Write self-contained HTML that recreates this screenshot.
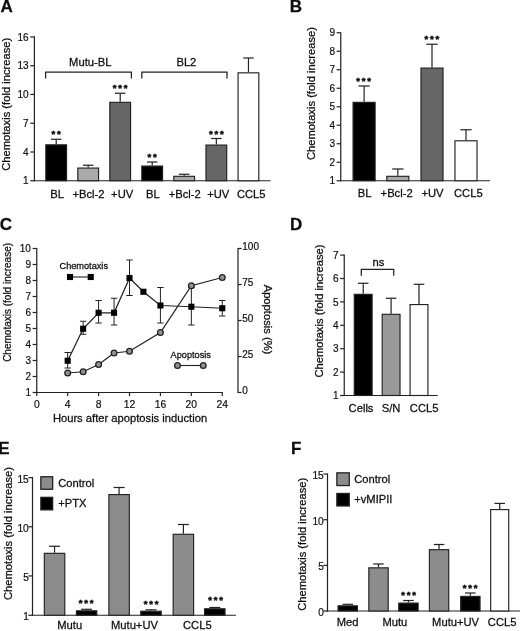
<!DOCTYPE html>
<html><head><meta charset="utf-8"><title>Figure</title>
<style>
html,body{margin:0;padding:0;background:#fff;}
body{width:520px;height:631px;overflow:hidden;}
svg{display:block;}
svg text{font-family:"Liberation Sans",sans-serif;stroke:#111;stroke-width:0.27px;}
svg text.tk{stroke-width:0.2px;}
</style></head><body>
<svg width="520" height="631" viewBox="0 0 520 631">
<defs><filter id="soft" x="0" y="0" width="100%" height="100%" filterUnits="userSpaceOnUse"><feGaussianBlur stdDeviation="0.38"/></filter></defs>
<rect x="0" y="0" width="520" height="631" fill="#ffffff"/>
<g filter="url(#soft)">
<text x="0.40" y="12.40" font-size="17" text-anchor="start" font-weight="bold" fill="#111">A</text>
<line x1="34.40" y1="36.37" x2="34.40" y2="181.35" stroke="#222" stroke-width="1.2"/>
<line x1="30.30" y1="180.75" x2="34.40" y2="180.75" stroke="#222" stroke-width="1.2"/>
<text x="28.60" y="184.35" font-size="10" text-anchor="end" font-weight="normal" fill="#111" class="tk">1</text>
<line x1="30.30" y1="152.00" x2="34.40" y2="152.00" stroke="#222" stroke-width="1.2"/>
<text x="28.60" y="155.59" font-size="10" text-anchor="end" font-weight="normal" fill="#111" class="tk">4</text>
<line x1="30.30" y1="123.24" x2="34.40" y2="123.24" stroke="#222" stroke-width="1.2"/>
<text x="28.60" y="126.84" font-size="10" text-anchor="end" font-weight="normal" fill="#111" class="tk">7</text>
<line x1="30.30" y1="94.48" x2="34.40" y2="94.48" stroke="#222" stroke-width="1.2"/>
<text x="28.60" y="98.08" font-size="10" text-anchor="end" font-weight="normal" fill="#111" class="tk">10</text>
<line x1="30.30" y1="65.73" x2="34.40" y2="65.73" stroke="#222" stroke-width="1.2"/>
<text x="28.60" y="69.33" font-size="10" text-anchor="end" font-weight="normal" fill="#111" class="tk">13</text>
<line x1="30.30" y1="36.97" x2="34.40" y2="36.97" stroke="#222" stroke-width="1.2"/>
<text x="28.60" y="40.57" font-size="10" text-anchor="end" font-weight="normal" fill="#111" class="tk">16</text>
<line x1="33.80" y1="180.75" x2="270.50" y2="180.75" stroke="#222" stroke-width="1.2"/>
<text x="10.10" y="104.30" font-size="11.2" text-anchor="middle" font-weight="normal" fill="#111" transform="rotate(-90 10.10 104.30)">Chemotaxis (fold increase)</text>
<line x1="56.20" y1="144.25" x2="56.20" y2="139.25" stroke="#222" stroke-width="1.2"/>
<line x1="50.95" y1="139.25" x2="61.45" y2="139.25" stroke="#222" stroke-width="1.2"/>
<rect x="45.83" y="144.82" width="20.75" height="35.92" fill="#000" stroke="#222" stroke-width="1.15"/>
<line x1="88.20" y1="167.50" x2="88.20" y2="165.25" stroke="#222" stroke-width="1.2"/>
<line x1="82.95" y1="165.25" x2="93.45" y2="165.25" stroke="#222" stroke-width="1.2"/>
<rect x="77.83" y="168.07" width="20.75" height="12.68" fill="#aaaaaa" stroke="#222" stroke-width="1.15"/>
<line x1="120.20" y1="101.75" x2="120.20" y2="93.25" stroke="#222" stroke-width="1.2"/>
<line x1="114.95" y1="93.25" x2="125.45" y2="93.25" stroke="#222" stroke-width="1.2"/>
<rect x="109.83" y="102.33" width="20.75" height="78.42" fill="#666666" stroke="#222" stroke-width="1.15"/>
<line x1="152.20" y1="165.50" x2="152.20" y2="162.00" stroke="#222" stroke-width="1.2"/>
<line x1="146.95" y1="162.00" x2="157.45" y2="162.00" stroke="#222" stroke-width="1.2"/>
<rect x="141.82" y="166.07" width="20.75" height="14.68" fill="#000" stroke="#222" stroke-width="1.15"/>
<line x1="184.20" y1="175.75" x2="184.20" y2="174.25" stroke="#222" stroke-width="1.2"/>
<line x1="178.95" y1="174.25" x2="189.45" y2="174.25" stroke="#222" stroke-width="1.2"/>
<rect x="173.82" y="176.32" width="20.75" height="4.42" fill="#aaaaaa" stroke="#222" stroke-width="1.15"/>
<line x1="216.35" y1="144.50" x2="216.35" y2="138.50" stroke="#222" stroke-width="1.2"/>
<line x1="211.10" y1="138.50" x2="221.60" y2="138.50" stroke="#222" stroke-width="1.2"/>
<rect x="205.97" y="145.07" width="20.75" height="35.67" fill="#666666" stroke="#222" stroke-width="1.15"/>
<line x1="248.45" y1="72.25" x2="248.45" y2="58.00" stroke="#222" stroke-width="1.2"/>
<line x1="243.20" y1="58.00" x2="253.70" y2="58.00" stroke="#222" stroke-width="1.2"/>
<rect x="238.07" y="72.83" width="20.75" height="107.92" fill="#fff" stroke="#222" stroke-width="1.15"/>
<polyline points="45.6,78.6 45.6,72 131.4,72 131.4,78.6" fill="none" stroke="#222" stroke-width="1.25"/>
<polyline points="141.8,78.6 141.8,72 227,72 227,78.6" fill="none" stroke="#222" stroke-width="1.25"/>
<text x="90.25" y="66.00" font-size="11.2" text-anchor="middle" font-weight="normal" fill="#111">Mutu-BL</text>
<text x="186.40" y="66.00" font-size="11.2" text-anchor="middle" font-weight="normal" fill="#111">BL2</text>
<text x="53.45 58.95" y="136.59" font-size="9.5" text-anchor="middle" font-weight="bold" fill="#111" style="stroke-width:0.55px">**</text>
<text x="114.70 120.20 125.70" y="90.83" font-size="9.5" text-anchor="middle" font-weight="bold" fill="#111" style="stroke-width:0.55px">***</text>
<text x="149.45 154.95" y="159.59" font-size="9.5" text-anchor="middle" font-weight="bold" fill="#111" style="stroke-width:0.55px">**</text>
<text x="210.90 216.40 221.90" y="137.09" font-size="9.5" text-anchor="middle" font-weight="bold" fill="#111" style="stroke-width:0.55px">***</text>
<text x="50.30" y="197.50" font-size="11.2" text-anchor="start" font-weight="normal" fill="#111">BL</text>
<text x="72.50" y="197.50" font-size="11.2" text-anchor="start" font-weight="normal" fill="#111">+Bcl-2</text>
<text x="111.10" y="197.50" font-size="11.2" text-anchor="start" font-weight="normal" fill="#111">+UV</text>
<text x="146.10" y="197.50" font-size="11.2" text-anchor="start" font-weight="normal" fill="#111">BL</text>
<text x="168.70" y="197.50" font-size="11.2" text-anchor="start" font-weight="normal" fill="#111">+Bcl-2</text>
<text x="207.20" y="197.50" font-size="11.2" text-anchor="start" font-weight="normal" fill="#111">+UV</text>
<text x="236.90" y="197.50" font-size="11.2" text-anchor="start" font-weight="normal" fill="#111">CCL5</text>
<text x="289.80" y="12.30" font-size="17" text-anchor="start" font-weight="bold" fill="#111">B</text>
<line x1="340.75" y1="32.15" x2="340.75" y2="181.35" stroke="#222" stroke-width="1.2"/>
<line x1="336.65" y1="180.75" x2="340.75" y2="180.75" stroke="#222" stroke-width="1.2"/>
<text x="334.95" y="184.35" font-size="10" text-anchor="end" font-weight="normal" fill="#111" class="tk">1</text>
<line x1="336.65" y1="162.25" x2="340.75" y2="162.25" stroke="#222" stroke-width="1.2"/>
<text x="334.95" y="165.85" font-size="10" text-anchor="end" font-weight="normal" fill="#111" class="tk">2</text>
<line x1="336.65" y1="143.75" x2="340.75" y2="143.75" stroke="#222" stroke-width="1.2"/>
<text x="334.95" y="147.35" font-size="10" text-anchor="end" font-weight="normal" fill="#111" class="tk">3</text>
<line x1="336.65" y1="125.25" x2="340.75" y2="125.25" stroke="#222" stroke-width="1.2"/>
<text x="334.95" y="128.85" font-size="10" text-anchor="end" font-weight="normal" fill="#111" class="tk">4</text>
<line x1="336.65" y1="106.75" x2="340.75" y2="106.75" stroke="#222" stroke-width="1.2"/>
<text x="334.95" y="110.35" font-size="10" text-anchor="end" font-weight="normal" fill="#111" class="tk">5</text>
<line x1="336.65" y1="88.25" x2="340.75" y2="88.25" stroke="#222" stroke-width="1.2"/>
<text x="334.95" y="91.85" font-size="10" text-anchor="end" font-weight="normal" fill="#111" class="tk">6</text>
<line x1="336.65" y1="69.75" x2="340.75" y2="69.75" stroke="#222" stroke-width="1.2"/>
<text x="334.95" y="73.35" font-size="10" text-anchor="end" font-weight="normal" fill="#111" class="tk">7</text>
<line x1="336.65" y1="51.25" x2="340.75" y2="51.25" stroke="#222" stroke-width="1.2"/>
<text x="334.95" y="54.85" font-size="10" text-anchor="end" font-weight="normal" fill="#111" class="tk">8</text>
<line x1="336.65" y1="32.75" x2="340.75" y2="32.75" stroke="#222" stroke-width="1.2"/>
<text x="334.95" y="36.35" font-size="10" text-anchor="end" font-weight="normal" fill="#111" class="tk">9</text>
<line x1="340.15" y1="180.75" x2="490.00" y2="180.75" stroke="#222" stroke-width="1.2"/>
<text x="315.20" y="93.50" font-size="11.2" text-anchor="middle" font-weight="normal" fill="#111" transform="rotate(-90 315.20 93.50)">Chemotaxis (fold increase)</text>
<line x1="364.10" y1="101.75" x2="364.10" y2="86.00" stroke="#222" stroke-width="1.2"/>
<line x1="358.45" y1="86.00" x2="369.75" y2="86.00" stroke="#222" stroke-width="1.2"/>
<rect x="353.07" y="102.33" width="22.05" height="78.42" fill="#000" stroke="#222" stroke-width="1.15"/>
<line x1="397.85" y1="175.75" x2="397.85" y2="169.00" stroke="#222" stroke-width="1.2"/>
<line x1="392.20" y1="169.00" x2="403.50" y2="169.00" stroke="#222" stroke-width="1.2"/>
<rect x="386.82" y="176.32" width="22.05" height="4.42" fill="#aaaaaa" stroke="#222" stroke-width="1.15"/>
<line x1="432.00" y1="67.50" x2="432.00" y2="44.25" stroke="#222" stroke-width="1.2"/>
<line x1="426.35" y1="44.25" x2="437.65" y2="44.25" stroke="#222" stroke-width="1.2"/>
<rect x="420.97" y="68.08" width="22.05" height="112.67" fill="#666666" stroke="#222" stroke-width="1.15"/>
<line x1="466.00" y1="140.25" x2="466.00" y2="129.75" stroke="#222" stroke-width="1.2"/>
<line x1="460.35" y1="129.75" x2="471.65" y2="129.75" stroke="#222" stroke-width="1.2"/>
<rect x="454.97" y="140.82" width="22.05" height="39.92" fill="#fff" stroke="#222" stroke-width="1.15"/>
<text x="358.00 363.50 369.00" y="84.08" font-size="9.5" text-anchor="middle" font-weight="bold" fill="#111" style="stroke-width:0.55px">***</text>
<text x="426.40 431.90 437.40" y="42.09" font-size="9.5" text-anchor="middle" font-weight="bold" fill="#111" style="stroke-width:0.55px">***</text>
<text x="357.80" y="197.30" font-size="11.2" text-anchor="start" font-weight="normal" fill="#111">BL</text>
<text x="380.60" y="197.30" font-size="11.2" text-anchor="start" font-weight="normal" fill="#111">+Bcl-2</text>
<text x="421.50" y="197.30" font-size="11.2" text-anchor="start" font-weight="normal" fill="#111">+UV</text>
<text x="454.00" y="197.30" font-size="11.2" text-anchor="start" font-weight="normal" fill="#111">CCL5</text>
<text x="-0.30" y="229.80" font-size="17" text-anchor="start" font-weight="bold" fill="#111">C</text>
<line x1="36.75" y1="247.90" x2="36.75" y2="393.10" stroke="#222" stroke-width="1.2"/>
<line x1="32.65" y1="392.50" x2="36.75" y2="392.50" stroke="#222" stroke-width="1.2"/>
<text x="30.95" y="396.10" font-size="10" text-anchor="end" font-weight="normal" fill="#111" class="tk">1</text>
<line x1="32.65" y1="376.50" x2="36.75" y2="376.50" stroke="#222" stroke-width="1.2"/>
<text x="30.95" y="380.10" font-size="10" text-anchor="end" font-weight="normal" fill="#111" class="tk">2</text>
<line x1="32.65" y1="360.50" x2="36.75" y2="360.50" stroke="#222" stroke-width="1.2"/>
<text x="30.95" y="364.10" font-size="10" text-anchor="end" font-weight="normal" fill="#111" class="tk">3</text>
<line x1="32.65" y1="344.50" x2="36.75" y2="344.50" stroke="#222" stroke-width="1.2"/>
<text x="30.95" y="348.10" font-size="10" text-anchor="end" font-weight="normal" fill="#111" class="tk">4</text>
<line x1="32.65" y1="328.50" x2="36.75" y2="328.50" stroke="#222" stroke-width="1.2"/>
<text x="30.95" y="332.10" font-size="10" text-anchor="end" font-weight="normal" fill="#111" class="tk">5</text>
<line x1="32.65" y1="312.50" x2="36.75" y2="312.50" stroke="#222" stroke-width="1.2"/>
<text x="30.95" y="316.10" font-size="10" text-anchor="end" font-weight="normal" fill="#111" class="tk">6</text>
<line x1="32.65" y1="296.50" x2="36.75" y2="296.50" stroke="#222" stroke-width="1.2"/>
<text x="30.95" y="300.10" font-size="10" text-anchor="end" font-weight="normal" fill="#111" class="tk">7</text>
<line x1="32.65" y1="280.50" x2="36.75" y2="280.50" stroke="#222" stroke-width="1.2"/>
<text x="30.95" y="284.10" font-size="10" text-anchor="end" font-weight="normal" fill="#111" class="tk">8</text>
<line x1="32.65" y1="264.50" x2="36.75" y2="264.50" stroke="#222" stroke-width="1.2"/>
<text x="30.95" y="268.10" font-size="10" text-anchor="end" font-weight="normal" fill="#111" class="tk">9</text>
<line x1="32.65" y1="248.50" x2="36.75" y2="248.50" stroke="#222" stroke-width="1.2"/>
<text x="30.95" y="252.10" font-size="10" text-anchor="end" font-weight="normal" fill="#111" class="tk">10</text>
<line x1="36.15" y1="392.50" x2="222.87" y2="392.50" stroke="#222" stroke-width="1.2"/>
<line x1="36.75" y1="392.50" x2="36.75" y2="396.10" stroke="#222" stroke-width="1.2"/>
<text x="36.75" y="408.40" font-size="10.3" text-anchor="middle" font-weight="normal" fill="#111" class="tk">0</text>
<line x1="67.67" y1="392.50" x2="67.67" y2="396.10" stroke="#222" stroke-width="1.2"/>
<text x="67.67" y="408.40" font-size="10.3" text-anchor="middle" font-weight="normal" fill="#111" class="tk">4</text>
<line x1="98.59" y1="392.50" x2="98.59" y2="396.10" stroke="#222" stroke-width="1.2"/>
<text x="98.59" y="408.40" font-size="10.3" text-anchor="middle" font-weight="normal" fill="#111" class="tk">8</text>
<line x1="129.51" y1="392.50" x2="129.51" y2="396.10" stroke="#222" stroke-width="1.2"/>
<text x="129.51" y="408.40" font-size="10.3" text-anchor="middle" font-weight="normal" fill="#111" class="tk">12</text>
<line x1="160.43" y1="392.50" x2="160.43" y2="396.10" stroke="#222" stroke-width="1.2"/>
<text x="160.43" y="408.40" font-size="10.3" text-anchor="middle" font-weight="normal" fill="#111" class="tk">16</text>
<line x1="191.35" y1="392.50" x2="191.35" y2="396.10" stroke="#222" stroke-width="1.2"/>
<text x="191.35" y="408.40" font-size="10.3" text-anchor="middle" font-weight="normal" fill="#111" class="tk">20</text>
<line x1="222.27" y1="392.50" x2="222.27" y2="396.10" stroke="#222" stroke-width="1.2"/>
<text x="222.27" y="408.40" font-size="10.3" text-anchor="middle" font-weight="normal" fill="#111" class="tk">24</text>
<text x="130.00" y="421.50" font-size="11.2" text-anchor="middle" font-weight="normal" fill="#111">Hours after apoptosis induction</text>
<text x="10.60" y="302.40" font-size="10" text-anchor="middle" font-weight="normal" fill="#111" transform="rotate(-90 10.60 302.40)">Chemotaxis (fold increase)</text>
<line x1="238.00" y1="247.90" x2="238.00" y2="393.10" stroke="#222" stroke-width="1.2"/>
<line x1="238.00" y1="392.50" x2="241.60" y2="392.50" stroke="#222" stroke-width="1.2"/>
<text x="242.30" y="394.30" font-size="10" text-anchor="start" font-weight="normal" fill="#111" class="tk">0</text>
<line x1="238.00" y1="356.50" x2="241.60" y2="356.50" stroke="#222" stroke-width="1.2"/>
<text x="242.30" y="358.30" font-size="10" text-anchor="start" font-weight="normal" fill="#111" class="tk">25</text>
<line x1="238.00" y1="320.50" x2="241.60" y2="320.50" stroke="#222" stroke-width="1.2"/>
<text x="242.30" y="322.30" font-size="10" text-anchor="start" font-weight="normal" fill="#111" class="tk">50</text>
<line x1="238.00" y1="284.50" x2="241.60" y2="284.50" stroke="#222" stroke-width="1.2"/>
<text x="242.30" y="286.30" font-size="10" text-anchor="start" font-weight="normal" fill="#111" class="tk">75</text>
<line x1="238.00" y1="248.50" x2="241.60" y2="248.50" stroke="#222" stroke-width="1.2"/>
<text x="242.30" y="250.30" font-size="10" text-anchor="start" font-weight="normal" fill="#111" class="tk">100</text>
<text x="263.80" y="319.50" font-size="11.2" text-anchor="middle" font-weight="normal" fill="#111" transform="rotate(90 263.80 319.50)">Apoptosis (%)</text>
<line x1="67.67" y1="352.50" x2="67.67" y2="368.00" stroke="#222" stroke-width="1.0"/>
<line x1="64.47" y1="352.50" x2="70.87" y2="352.50" stroke="#222" stroke-width="1.0"/>
<line x1="64.47" y1="368.00" x2="70.87" y2="368.00" stroke="#222" stroke-width="1.0"/>
<line x1="83.13" y1="321.25" x2="83.13" y2="334.25" stroke="#222" stroke-width="1.0"/>
<line x1="79.93" y1="321.25" x2="86.33" y2="321.25" stroke="#222" stroke-width="1.0"/>
<line x1="79.93" y1="334.25" x2="86.33" y2="334.25" stroke="#222" stroke-width="1.0"/>
<line x1="98.59" y1="300.50" x2="98.59" y2="323.00" stroke="#222" stroke-width="1.0"/>
<line x1="95.39" y1="300.50" x2="101.79" y2="300.50" stroke="#222" stroke-width="1.0"/>
<line x1="95.39" y1="323.00" x2="101.79" y2="323.00" stroke="#222" stroke-width="1.0"/>
<line x1="114.05" y1="298.25" x2="114.05" y2="325.00" stroke="#222" stroke-width="1.0"/>
<line x1="110.85" y1="298.25" x2="117.25" y2="298.25" stroke="#222" stroke-width="1.0"/>
<line x1="110.85" y1="325.00" x2="117.25" y2="325.00" stroke="#222" stroke-width="1.0"/>
<line x1="129.51" y1="260.00" x2="129.51" y2="295.50" stroke="#222" stroke-width="1.0"/>
<line x1="126.31" y1="260.00" x2="132.71" y2="260.00" stroke="#222" stroke-width="1.0"/>
<line x1="126.31" y1="295.50" x2="132.71" y2="295.50" stroke="#222" stroke-width="1.0"/>
<line x1="160.43" y1="287.50" x2="160.43" y2="323.00" stroke="#222" stroke-width="1.0"/>
<line x1="157.23" y1="287.50" x2="163.63" y2="287.50" stroke="#222" stroke-width="1.0"/>
<line x1="157.23" y1="323.00" x2="163.63" y2="323.00" stroke="#222" stroke-width="1.0"/>
<line x1="191.35" y1="287.50" x2="191.35" y2="325.00" stroke="#222" stroke-width="1.0"/>
<line x1="188.15" y1="287.50" x2="194.55" y2="287.50" stroke="#222" stroke-width="1.0"/>
<line x1="188.15" y1="325.00" x2="194.55" y2="325.00" stroke="#222" stroke-width="1.0"/>
<line x1="222.27" y1="300.50" x2="222.27" y2="316.00" stroke="#222" stroke-width="1.0"/>
<line x1="219.07" y1="300.50" x2="225.47" y2="300.50" stroke="#222" stroke-width="1.0"/>
<line x1="219.07" y1="316.00" x2="225.47" y2="316.00" stroke="#222" stroke-width="1.0"/>
<polyline points="67.67,360.75 83.13,328.75 98.59,312.75 114.05,312.75 129.51,278.00 143.42,291.75 160.43,305.50 191.35,306.75 222.27,308.25" fill="none" stroke="#222" stroke-width="1.25"/>
<polyline points="67.67,373.00 83.13,371.75 98.59,364.50 114.05,353.00 129.51,351.25 160.43,332.50 191.35,285.75 222.27,277.50" fill="none" stroke="#222" stroke-width="1.25"/>
<rect x="64.62" y="357.70" width="6.1" height="6.1" fill="#000"/>
<rect x="80.08" y="325.70" width="6.1" height="6.1" fill="#000"/>
<rect x="95.54" y="309.70" width="6.1" height="6.1" fill="#000"/>
<rect x="111.00" y="309.70" width="6.1" height="6.1" fill="#000"/>
<rect x="126.46" y="274.95" width="6.1" height="6.1" fill="#000"/>
<rect x="140.37" y="288.70" width="6.1" height="6.1" fill="#000"/>
<rect x="157.38" y="302.45" width="6.1" height="6.1" fill="#000"/>
<rect x="188.30" y="303.70" width="6.1" height="6.1" fill="#000"/>
<rect x="219.22" y="305.20" width="6.1" height="6.1" fill="#000"/>
<circle cx="67.67" cy="373.00" r="2.85" fill="#929292" stroke="#222" stroke-width="1.3"/>
<circle cx="83.13" cy="371.75" r="2.85" fill="#929292" stroke="#222" stroke-width="1.3"/>
<circle cx="98.59" cy="364.50" r="2.85" fill="#929292" stroke="#222" stroke-width="1.3"/>
<circle cx="114.05" cy="353.00" r="2.85" fill="#929292" stroke="#222" stroke-width="1.3"/>
<circle cx="129.51" cy="351.25" r="2.85" fill="#929292" stroke="#222" stroke-width="1.3"/>
<circle cx="160.43" cy="332.50" r="2.85" fill="#929292" stroke="#222" stroke-width="1.3"/>
<circle cx="191.35" cy="285.75" r="2.85" fill="#929292" stroke="#222" stroke-width="1.3"/>
<circle cx="222.27" cy="277.50" r="2.85" fill="#929292" stroke="#222" stroke-width="1.3"/>
<text x="59.50" y="269.00" font-size="9.2" text-anchor="start" font-weight="normal" fill="#111">Chemotaxis</text>
<line x1="70.00" y1="277.00" x2="90.75" y2="277.00" stroke="#222" stroke-width="1.1"/>
<rect x="66.95" y="273.95" width="6.1" height="6.1" fill="#000"/>
<rect x="87.70" y="273.95" width="6.1" height="6.1" fill="#000"/>
<text x="170.60" y="357.50" font-size="9.2" text-anchor="start" font-weight="normal" fill="#111">Apoptosis</text>
<line x1="177.50" y1="365.50" x2="203.25" y2="365.50" stroke="#222" stroke-width="1.1"/>
<circle cx="177.5" cy="365.5" r="2.85" fill="#929292" stroke="#222" stroke-width="1.3"/>
<circle cx="203.25" cy="365.5" r="2.85" fill="#929292" stroke="#222" stroke-width="1.3"/>
<text x="290.00" y="230.00" font-size="17" text-anchor="start" font-weight="bold" fill="#111">D</text>
<line x1="344.25" y1="254.50" x2="344.25" y2="396.10" stroke="#222" stroke-width="1.2"/>
<line x1="340.15" y1="395.50" x2="344.25" y2="395.50" stroke="#222" stroke-width="1.2"/>
<text x="338.45" y="399.10" font-size="10" text-anchor="end" font-weight="normal" fill="#111" class="tk">1</text>
<line x1="340.15" y1="372.10" x2="344.25" y2="372.10" stroke="#222" stroke-width="1.2"/>
<text x="338.45" y="375.70" font-size="10" text-anchor="end" font-weight="normal" fill="#111" class="tk">2</text>
<line x1="340.15" y1="348.70" x2="344.25" y2="348.70" stroke="#222" stroke-width="1.2"/>
<text x="338.45" y="352.30" font-size="10" text-anchor="end" font-weight="normal" fill="#111" class="tk">3</text>
<line x1="340.15" y1="325.30" x2="344.25" y2="325.30" stroke="#222" stroke-width="1.2"/>
<text x="338.45" y="328.90" font-size="10" text-anchor="end" font-weight="normal" fill="#111" class="tk">4</text>
<line x1="340.15" y1="301.90" x2="344.25" y2="301.90" stroke="#222" stroke-width="1.2"/>
<text x="338.45" y="305.50" font-size="10" text-anchor="end" font-weight="normal" fill="#111" class="tk">5</text>
<line x1="340.15" y1="278.50" x2="344.25" y2="278.50" stroke="#222" stroke-width="1.2"/>
<text x="338.45" y="282.10" font-size="10" text-anchor="end" font-weight="normal" fill="#111" class="tk">6</text>
<line x1="340.15" y1="255.10" x2="344.25" y2="255.10" stroke="#222" stroke-width="1.2"/>
<text x="338.45" y="258.70" font-size="10" text-anchor="end" font-weight="normal" fill="#111" class="tk">7</text>
<line x1="343.65" y1="395.50" x2="437.70" y2="395.50" stroke="#222" stroke-width="1.2"/>
<text x="322.90" y="311.00" font-size="11.2" text-anchor="middle" font-weight="normal" fill="#111" transform="rotate(-90 322.90 311.00)">Chemotaxis (fold increase)</text>
<line x1="363.20" y1="293.75" x2="363.20" y2="283.25" stroke="#222" stroke-width="1.2"/>
<line x1="357.95" y1="283.25" x2="368.45" y2="283.25" stroke="#222" stroke-width="1.2"/>
<rect x="354.27" y="294.32" width="17.85" height="101.17" fill="#000" stroke="#222" stroke-width="1.15"/>
<line x1="391.10" y1="313.75" x2="391.10" y2="298.25" stroke="#222" stroke-width="1.2"/>
<line x1="385.85" y1="298.25" x2="396.35" y2="298.25" stroke="#222" stroke-width="1.2"/>
<rect x="382.18" y="314.32" width="17.85" height="81.17" fill="#999999" stroke="#222" stroke-width="1.15"/>
<line x1="419.00" y1="304.00" x2="419.00" y2="284.30" stroke="#222" stroke-width="1.2"/>
<line x1="413.75" y1="284.30" x2="424.25" y2="284.30" stroke="#222" stroke-width="1.2"/>
<rect x="410.07" y="304.57" width="17.85" height="90.92" fill="#fff" stroke="#222" stroke-width="1.15"/>
<polyline points="361.3,275.7 361.3,269.3 393.7,269.3 393.7,275.7" fill="none" stroke="#222" stroke-width="1.25"/>
<text x="378.40" y="265.50" font-size="11.2" text-anchor="middle" font-weight="normal" fill="#111">ns</text>
<text x="348.60" y="412.40" font-size="11.2" text-anchor="start" font-weight="normal" fill="#111">Cells</text>
<text x="381.80" y="412.40" font-size="11.2" text-anchor="start" font-weight="normal" fill="#111">S/N</text>
<text x="409.80" y="412.40" font-size="11.2" text-anchor="start" font-weight="normal" fill="#111">CCL5</text>
<text x="-1.70" y="454.30" font-size="17" text-anchor="start" font-weight="bold" fill="#111">E</text>
<line x1="32.50" y1="477.03" x2="32.50" y2="615.85" stroke="#222" stroke-width="1.2"/>
<line x1="28.40" y1="615.25" x2="32.50" y2="615.25" stroke="#222" stroke-width="1.2"/>
<text x="28.80" y="620.22" font-size="10.2" text-anchor="end" font-weight="normal" fill="#111" class="tk">1</text>
<line x1="28.40" y1="575.93" x2="32.50" y2="575.93" stroke="#222" stroke-width="1.2"/>
<text x="28.80" y="580.90" font-size="10.2" text-anchor="end" font-weight="normal" fill="#111" class="tk">5</text>
<line x1="28.40" y1="526.78" x2="32.50" y2="526.78" stroke="#222" stroke-width="1.2"/>
<text x="28.80" y="531.75" font-size="10.2" text-anchor="end" font-weight="normal" fill="#111" class="tk">10</text>
<line x1="28.40" y1="477.63" x2="32.50" y2="477.63" stroke="#222" stroke-width="1.2"/>
<text x="28.80" y="482.60" font-size="10.2" text-anchor="end" font-weight="normal" fill="#111" class="tk">15</text>
<line x1="31.90" y1="615.25" x2="236.00" y2="615.25" stroke="#222" stroke-width="1.2"/>
<text x="11.70" y="533.50" font-size="11.2" text-anchor="middle" font-weight="normal" fill="#111" transform="rotate(-90 11.70 533.50)">Chemotaxis (fold increase)</text>
<line x1="54.55" y1="552.75" x2="54.55" y2="546.25" stroke="#222" stroke-width="1.2"/>
<line x1="49.05" y1="546.25" x2="60.05" y2="546.25" stroke="#222" stroke-width="1.2"/>
<rect x="44.33" y="553.33" width="20.45" height="61.92" fill="#8c8c8c" stroke="#222" stroke-width="1.15"/>
<line x1="86.60" y1="610.25" x2="86.60" y2="609.30" stroke="#222" stroke-width="1.2"/>
<line x1="81.10" y1="609.30" x2="92.10" y2="609.30" stroke="#222" stroke-width="1.2"/>
<rect x="76.38" y="610.83" width="20.45" height="4.42" fill="#000" stroke="#222" stroke-width="1.15"/>
<line x1="119.10" y1="494.00" x2="119.10" y2="487.50" stroke="#222" stroke-width="1.2"/>
<line x1="113.60" y1="487.50" x2="124.60" y2="487.50" stroke="#222" stroke-width="1.2"/>
<rect x="108.88" y="494.57" width="20.45" height="120.67" fill="#8c8c8c" stroke="#222" stroke-width="1.15"/>
<line x1="151.00" y1="610.60" x2="151.00" y2="609.80" stroke="#222" stroke-width="1.2"/>
<line x1="145.50" y1="609.80" x2="156.50" y2="609.80" stroke="#222" stroke-width="1.2"/>
<rect x="140.77" y="611.18" width="20.45" height="4.07" fill="#000" stroke="#222" stroke-width="1.15"/>
<line x1="183.40" y1="533.70" x2="183.40" y2="524.50" stroke="#222" stroke-width="1.2"/>
<line x1="177.90" y1="524.50" x2="188.90" y2="524.50" stroke="#222" stroke-width="1.2"/>
<rect x="173.17" y="534.28" width="20.45" height="80.97" fill="#8c8c8c" stroke="#222" stroke-width="1.15"/>
<line x1="214.80" y1="608.20" x2="214.80" y2="607.50" stroke="#222" stroke-width="1.2"/>
<line x1="209.30" y1="607.50" x2="220.30" y2="607.50" stroke="#222" stroke-width="1.2"/>
<rect x="204.57" y="608.78" width="20.45" height="6.47" fill="#000" stroke="#222" stroke-width="1.15"/>
<text x="80.70 86.20 91.70" y="606.38" font-size="9.5" text-anchor="middle" font-weight="bold" fill="#111" style="stroke-width:0.55px">***</text>
<text x="145.70 151.20 156.70" y="607.09" font-size="9.5" text-anchor="middle" font-weight="bold" fill="#111" style="stroke-width:0.55px">***</text>
<text x="210.00 215.50 221.00" y="603.29" font-size="9.5" text-anchor="middle" font-weight="bold" fill="#111" style="stroke-width:0.55px">***</text>
<text x="57.30" y="629.40" font-size="11.2" text-anchor="start" font-weight="normal" fill="#111">Mutu</text>
<text x="111.00" y="629.40" font-size="11.2" text-anchor="start" font-weight="normal" fill="#111">Mutu+UV</text>
<text x="183.00" y="629.40" font-size="11.2" text-anchor="start" font-weight="normal" fill="#111">CCL5</text>
<rect x="40.85" y="476.75" width="11.80" height="12.50" fill="#8c8c8c" stroke="#222" stroke-width="1.3"/>
<rect x="40.85" y="497.35" width="11.80" height="12.50" fill="#000" stroke="#222" stroke-width="1.3"/>
<text x="58.20" y="487.00" font-size="11.2" text-anchor="start" font-weight="normal" fill="#111">Control</text>
<text x="58.20" y="507.00" font-size="11.2" text-anchor="start" font-weight="normal" fill="#111">+PTX</text>
<text x="291.00" y="454.30" font-size="17" text-anchor="start" font-weight="bold" fill="#111">F</text>
<line x1="327.50" y1="473.45" x2="327.50" y2="611.60" stroke="#222" stroke-width="1.2"/>
<line x1="323.40" y1="611.00" x2="327.50" y2="611.00" stroke="#222" stroke-width="1.2"/>
<text x="323.80" y="615.97" font-size="10.2" text-anchor="end" font-weight="normal" fill="#111" class="tk">0</text>
<line x1="323.40" y1="565.35" x2="327.50" y2="565.35" stroke="#222" stroke-width="1.2"/>
<text x="323.80" y="570.32" font-size="10.2" text-anchor="end" font-weight="normal" fill="#111" class="tk">5</text>
<line x1="323.40" y1="519.70" x2="327.50" y2="519.70" stroke="#222" stroke-width="1.2"/>
<text x="323.80" y="524.67" font-size="10.2" text-anchor="end" font-weight="normal" fill="#111" class="tk">10</text>
<line x1="323.40" y1="474.05" x2="327.50" y2="474.05" stroke="#222" stroke-width="1.2"/>
<text x="323.80" y="479.02" font-size="10.2" text-anchor="end" font-weight="normal" fill="#111" class="tk">15</text>
<line x1="326.90" y1="611.00" x2="520.00" y2="611.00" stroke="#222" stroke-width="1.2"/>
<text x="306.40" y="544.30" font-size="11.2" text-anchor="middle" font-weight="normal" fill="#111" transform="rotate(-90 306.40 544.30)">Chemotaxis (fold increase)</text>
<line x1="347.75" y1="605.25" x2="347.75" y2="604.30" stroke="#222" stroke-width="1.2"/>
<line x1="342.50" y1="604.30" x2="353.00" y2="604.30" stroke="#222" stroke-width="1.2"/>
<rect x="338.07" y="605.83" width="19.35" height="5.17" fill="#000" stroke="#222" stroke-width="1.15"/>
<line x1="378.50" y1="567.25" x2="378.50" y2="564.00" stroke="#222" stroke-width="1.2"/>
<line x1="373.25" y1="564.00" x2="383.75" y2="564.00" stroke="#222" stroke-width="1.2"/>
<rect x="368.82" y="567.83" width="19.35" height="43.17" fill="#8c8c8c" stroke="#222" stroke-width="1.15"/>
<line x1="408.45" y1="602.50" x2="408.45" y2="600.50" stroke="#222" stroke-width="1.2"/>
<line x1="403.20" y1="600.50" x2="413.70" y2="600.50" stroke="#222" stroke-width="1.2"/>
<rect x="398.77" y="603.08" width="19.35" height="7.92" fill="#000" stroke="#222" stroke-width="1.15"/>
<line x1="439.05" y1="549.10" x2="439.05" y2="544.50" stroke="#222" stroke-width="1.2"/>
<line x1="433.80" y1="544.50" x2="444.30" y2="544.50" stroke="#222" stroke-width="1.2"/>
<rect x="429.38" y="549.68" width="19.35" height="61.32" fill="#8c8c8c" stroke="#222" stroke-width="1.15"/>
<line x1="470.35" y1="595.80" x2="470.35" y2="593.00" stroke="#222" stroke-width="1.2"/>
<line x1="465.10" y1="593.00" x2="475.60" y2="593.00" stroke="#222" stroke-width="1.2"/>
<rect x="460.68" y="596.38" width="19.35" height="14.63" fill="#000" stroke="#222" stroke-width="1.15"/>
<line x1="499.70" y1="509.00" x2="499.70" y2="503.40" stroke="#222" stroke-width="1.2"/>
<line x1="494.45" y1="503.40" x2="504.95" y2="503.40" stroke="#222" stroke-width="1.2"/>
<rect x="490.68" y="509.57" width="18.05" height="101.42" fill="#fff" stroke="#222" stroke-width="1.15"/>
<text x="403.10 408.60 414.10" y="598.49" font-size="9.5" text-anchor="middle" font-weight="bold" fill="#111" style="stroke-width:0.55px">***</text>
<text x="464.70 470.20 475.70" y="591.38" font-size="9.5" text-anchor="middle" font-weight="bold" fill="#111" style="stroke-width:0.55px">***</text>
<text x="336.80" y="626.10" font-size="11.2" text-anchor="start" font-weight="normal" fill="#111">Med</text>
<text x="382.40" y="626.10" font-size="11.2" text-anchor="start" font-weight="normal" fill="#111">Mutu</text>
<text x="432.10" y="626.10" font-size="11.2" text-anchor="start" font-weight="normal" fill="#111">Mutu+UV</text>
<text x="487.80" y="626.10" font-size="11.2" text-anchor="start" font-weight="normal" fill="#111">CCL5</text>
<rect x="336.85" y="472.85" width="12.40" height="12.70" fill="#8c8c8c" stroke="#222" stroke-width="1.3"/>
<rect x="336.85" y="493.45" width="12.40" height="12.50" fill="#000" stroke="#222" stroke-width="1.3"/>
<text x="354.20" y="483.30" font-size="11.2" text-anchor="start" font-weight="normal" fill="#111">Control</text>
<text x="354.20" y="503.30" font-size="11.2" text-anchor="start" font-weight="normal" fill="#111">+vMIPII</text>
</g>
</svg>
</body></html>
